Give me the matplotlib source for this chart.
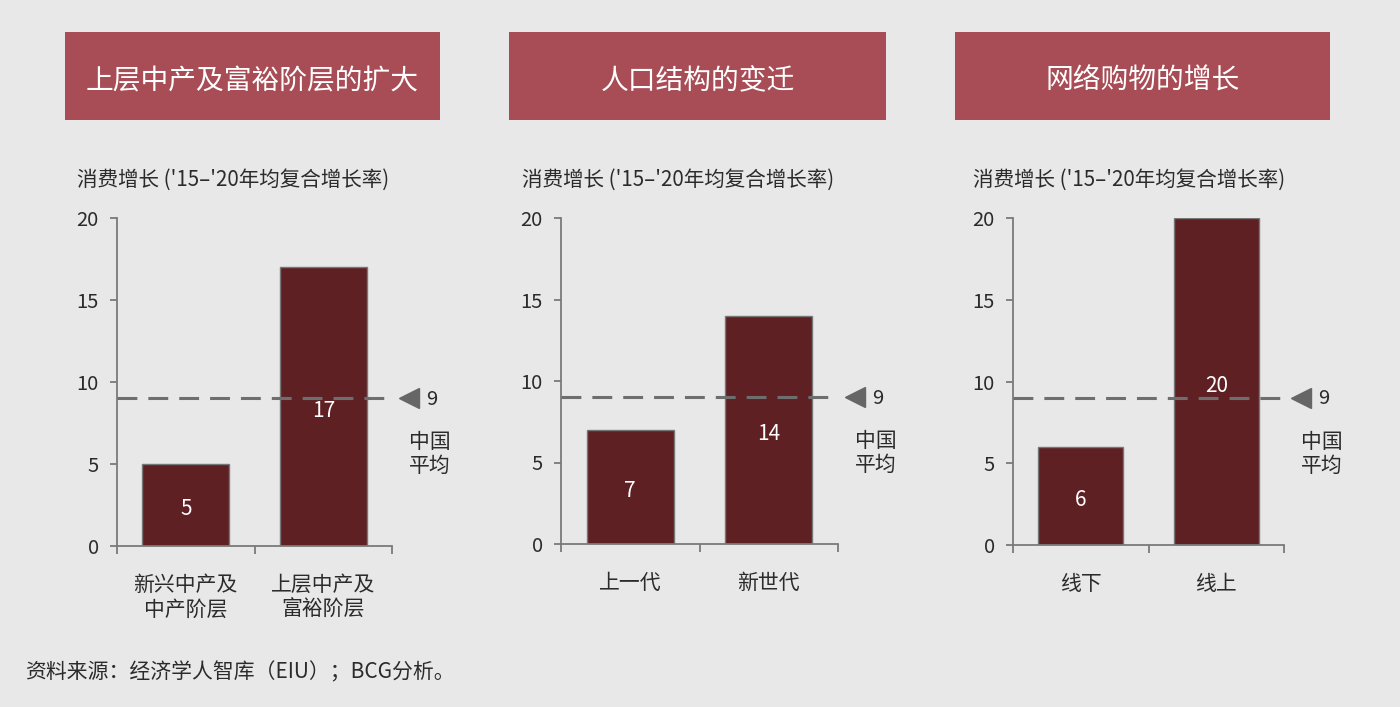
import matplotlib
matplotlib.use('Agg')
import matplotlib.pyplot as plt
from matplotlib.patches import Rectangle
import matplotlib.transforms as mtrans

plt.rcParams['font.family'] = ['Noto Sans CJK SC', 'DejaVu Sans']

# ---------------- data ----------------
titles = ['上层中产及富裕阶层的扩大', '人口结构的变迁', '网络购物的增长']
categories_1 = ['新兴中产及\n中产阶层', '上层中产及\n富裕阶层']
categories_2 = ['上一代', '新世代']
categories_3 = ['线下', '线上']
values_1 = [5, 17]
values_2 = [7, 14]
values_3 = [6, 20]
china_avg = 9
y_ticks = [0, 5, 10, 15, 20]
subtitle = "消费增长 ('15–'20年均复合增长率)"
avg_label = '中国\n平均'
source = '资料来源：经济学人智库（EIU）；BCG分析。'

categories = [categories_1, categories_2, categories_3]
values = [values_1, values_2, values_3]

# ---------------- style ----------------
W, H = 1400, 707
bg = '#E8E8E8'
title_col = '#A84C56'
bar_col = '#5F2024'
axis_col = '#7A7A7A'
text_col = '#2B2B2B'
dash_col = '#6E6E6E'

fig = plt.figure(figsize=(W / 100, H / 100), dpi=100)
fig.patch.set_facecolor(bg)

axes_px = [(117, 392, 546, 218), (561, 838, 544, 218), (1013, 1284, 545, 218)]
title_px = [(65, 440), (509, 886), (955, 1330)]
sub_px = [77, 522, 973]

for i in range(3):
    # title box
    x0, x1 = title_px[i]
    fig.patches.append(Rectangle((x0 / W, (H - 120) / H), (x1 - x0) / W, 88 / H,
                                 transform=fig.transFigure, facecolor=title_col,
                                 edgecolor='none', zorder=0))
    fig.text((x0 + x1) / 2 / W, (H - 81) / H, titles[i], ha='center', va='center',
             color='white', fontsize=20)
    # subtitle
    fig.text(sub_px[i] / W, (H - 180) / H, subtitle, ha='left', va='center',
             color=text_col, fontsize=14.8)

    l, r, b, t = axes_px[i]
    ax = fig.add_axes([l / W, (H - b) / H, (r - l) / W, (b - t) / H])
    ax.set_facecolor('none')
    ax.set_xlim(0, 2)
    ax.set_ylim(0, 20)
    xs = [0.5, 1.5]
    ax.bar(xs, values[i], width=0.63, color=bar_col, edgecolor='#777777',
           linewidth=1.0, zorder=2)
    val_tr = mtrans.offset_copy(ax.transData, fig=fig, x=0, y=-4, units='dots')
    for x, v in zip(xs, values[i]):
        ax.text(x, v / 2, str(v), transform=val_tr, ha='center', va='center',
                color='white', fontsize=15, zorder=4)

    for side in ['top', 'right']:
        ax.spines[side].set_visible(False)
    for side in ['left', 'bottom']:
        ax.spines[side].set_color(axis_col)
        ax.spines[side].set_linewidth(1.3)
    ax.set_xticks([0, 1, 2])
    ax.set_xticklabels([])
    ax.set_yticks(y_ticks)
    ax.set_yticklabels([str(v) for v in y_ticks])
    ax.tick_params(axis='x', length=6, width=1.3, color=axis_col, direction='out')
    ax.tick_params(axis='y', length=5, width=1.3, color=axis_col, direction='out',
                   labelsize=14.5, labelcolor=text_col, pad=8)

    for x, c in zip(xs, categories[i]):
        ax.annotate(c, xy=(x, 0), xycoords=('data', 'axes fraction'),
                    xytext=(0, -20), textcoords='offset points', ha='center',
                    va='top', fontsize=15, color=text_col, linespacing=1.2)

    # average line
    ax.plot([0, 2], [china_avg, china_avg], linestyle=(0, (6.5, 3.6)), lw=2.2,
            color=dash_col, zorder=3, clip_on=False)
    blend = mtrans.blended_transform_factory(ax.transAxes, ax.transData)
    tri_tr = mtrans.offset_copy(blend, fig=fig, x=17, y=0, units='dots')
    ax.plot([1], [china_avg], marker='<', markersize=14, color='#666666',
            transform=tri_tr, clip_on=False, linestyle='none')
    num_tr = mtrans.offset_copy(blend, fig=fig, x=34, y=-1, units='dots')
    ax.text(1, china_avg, str(china_avg), transform=num_tr, ha='left', va='center',
            fontsize=14.5, color=text_col)
    lab_tr = mtrans.offset_copy(blend, fig=fig, x=17, y=-33, units='dots')
    ax.text(1, china_avg, avg_label, transform=lab_tr, ha='left', va='top',
            fontsize=15, color=text_col, linespacing=1.1)

fig.text(25 / W, (H - 672) / H, source, ha='left', va='center', color=text_col,
         fontsize=15)

fig.savefig('out.png', dpi=100, facecolor=bg)
